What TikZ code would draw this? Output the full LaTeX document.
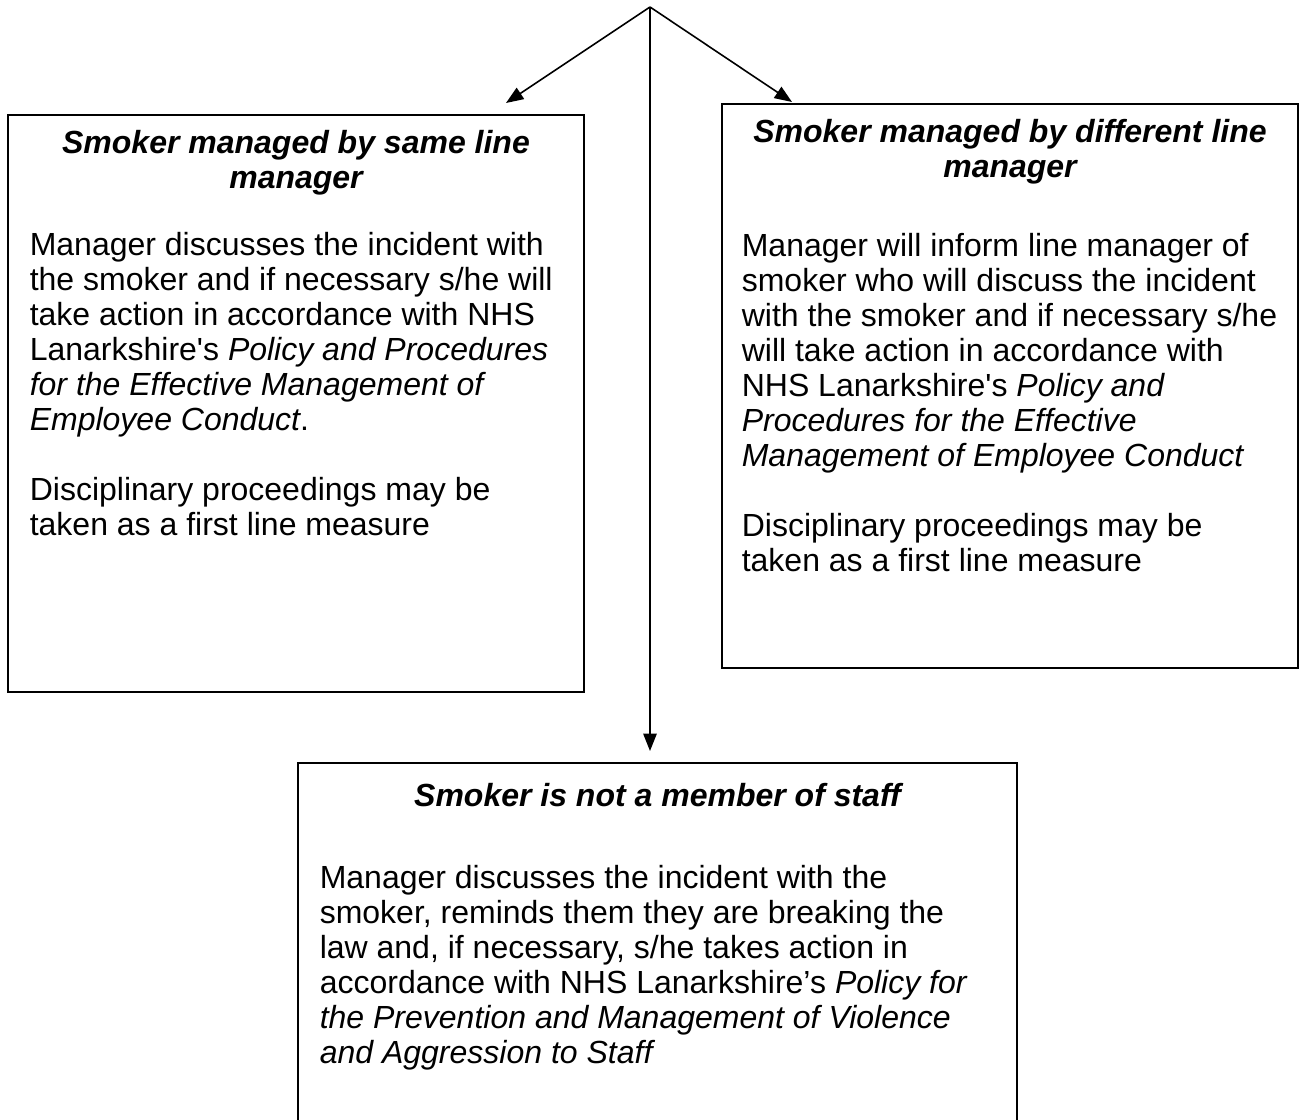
\documentclass[tikz,border=0pt]{standalone}
\usepackage{fontspec}
\setmainfont{Liberation Sans}
\usetikzlibrary{arrows.meta,fit}

\newcommand\flowfont{\fontsize{12}{13.1}\selectfont}

\tikzset{
  box/.style={draw, line width=0.6pt, inner sep=0pt},
  head/.style={font=\flowfont\bfseries\itshape, align=center, anchor=base, inner sep=0pt},
  body/.style={font=\flowfont, align=left, anchor=base west, inner sep=0pt},
}

\begin{document}
\begin{tikzpicture}[x=0.375pt, y=-0.375pt, line width=0.6pt,
    >={Triangle[length=6.5pt,width=5pt]}]
  \clip (0,0) rectangle (1300,1120);
  \fill[white] (0,0) rectangle (1300,1120);

  % the three boxes
  \node[box, fit={(8,115) (584,692)}]    (same)  {};
  \node[box, fit={(722,104) (1298,668)}] (diff)  {};
  \node[box, fit={(298,763) (1017,1150)}] (staff) {};

  % left box (base = last line)
  \node[head] (samehead) at (296,188.6) {Smoker managed by same line\\manager};
  \node[body] (sametext) at (29,535) {%
    Manager discusses the incident with\\
    the smoker and if necessary s/he will\\
    take action in accordance with NHS\\
    Lanarkshire\textquotesingle s \textit{Policy and Procedures}\\
    \textit{for the Effective Management of}\\
    \textit{Employee Conduct}.\\[13.1pt]
    Disciplinary proceedings may be\\
    taken as a first line measure};

  % right box
  \node[head] (diffhead) at (1010,177.5) {Smoker managed by different line\\manager};
  \node[body] (difftext) at (741,571) {%
    Manager will inform line manager of\\
    smoker who will discuss the incident\\
    with the smoker and if necessary s/he\\
    will take action in accordance with\\
    NHS Lanarkshire\textquotesingle s \textit{Policy and}\\
    \textit{Procedures for the Effective}\\
    \textit{Management of Employee Conduct}\\[13.1pt]
    Disciplinary proceedings may be\\
    taken as a first line measure};

  % bottom box
  \node[head] (staffhead) at (657.5,806) {Smoker is not a member of staff};
  \node[body] (stafftext) at (319,1063) {%
    Manager discusses the incident with the\\
    smoker, reminds them they are breaking the\\
    law and, if necessary, s/he takes action in\\
    accordance with NHS Lanarkshire’s \textit{Policy for}\\
    \textit{the Prevention and Management of Violence}\\
    \textit{and Aggression to Staff}};

  % arrows
  \coordinate (top) at (650,7);
  \coordinate (sametip) at (506,103);
  \coordinate (difftip) at (792,102);
  \coordinate (stafftip) at (650,751);
  \draw[->] (top) -- (sametip);
  \draw[->] (top) -- (difftip);
  \draw[->] (top) -- (stafftip);
\end{tikzpicture}
\end{document}
